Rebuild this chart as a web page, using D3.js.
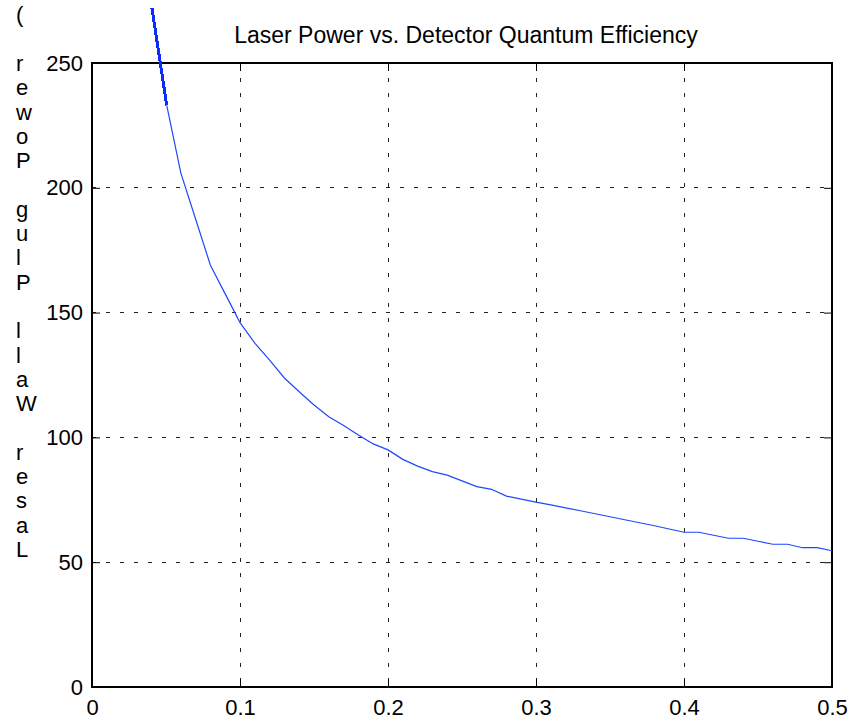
<!DOCTYPE html>
<html>
<head>
<meta charset="utf-8">
<script src="https://cdn.jsdelivr.net/npm/d3@7"></script>
<style>
    body { margin: 0; background: #fff; }
    text { font-family: "Liberation Sans", Arial, Helvetica, sans-serif; }
</style>
</head>
<body>
<div id="vis"></div>
<script>
//data
const efficiency = [0.0405, 0.0505, 0.06, 0.07, 0.08, 0.09, 0.10, 0.11, 0.12, 0.13, 0.14, 0.15,
    0.16, 0.17, 0.18, 0.19, 0.20, 0.21, 0.22, 0.23, 0.24, 0.25, 0.26, 0.27, 0.28, 0.29,
    0.30, 0.31, 0.32, 0.33, 0.34, 0.35, 0.36, 0.37, 0.38, 0.39, 0.40, 0.41, 0.42, 0.43,
    0.44, 0.45, 0.46, 0.47, 0.48, 0.49, 0.50]
const power = [272, 233, 206, 187.5, 169, 157.5, 146, 137.8, 131, 123.8, 118.3, 113,
    108.3, 104.8, 101, 97.4, 95, 91.2, 88.5, 86.3, 84.9, 82.6, 80.3, 79.2, 76.5, 75.3,
    74.1, 73, 71.8, 70.6, 69.4, 68.2, 67, 65.8, 64.6, 63.3, 62, 62, 60.8, 59.6,
    59.6, 58.4, 57.2, 57.2, 55.8, 55.8, 54.6]

const xTicks = [0, 0.1, 0.2, 0.3, 0.4, 0.5]
const xTickLabels = ["0", "0.1", "0.2", "0.3", "0.4", "0.5"]
const yTicks = [0, 50, 100, 150, 200, 250]
const yTickLabels = ["0", "50", "100", "150", "200", "250"]

const title = "Laser Power vs. Detector Quantum Efficiency"
const yLabel = "Laser Wall Plug Power ("

//static page size and plot box
const width = 854
const height = 722
const boxLeft = 92, boxRight = 832, boxTop = 63, boxBottom = 687

const svg = d3.select("#vis")
    .append("svg")
    .attr("width", width)
    .attr("height", height)

const x = d3.scaleLinear().domain([0, 0.5]).range([boxLeft, boxRight])
const y = d3.scaleLinear().domain([0, 250]).range([boxBottom, boxTop])

//dotted grid, only inside the box
svg.append("g")
    .selectAll("line")
    .data(xTicks.slice(1, -1))
    .enter()
    .append("line")
    .attr("x1", d => x(d)).attr("x2", d => x(d))
    .attr("y1", boxTop).attr("y2", boxBottom)
    .attr("stroke", "#222")
    .attr("stroke-dasharray", "4,11")
    .attr("shape-rendering", "crispEdges")

svg.append("g")
    .selectAll("line")
    .data(yTicks.slice(1, -1))
    .enter()
    .append("line")
    .attr("x1", boxLeft).attr("x2", boxRight)
    .attr("y1", d => y(d)).attr("y2", d => y(d))
    .attr("stroke", "#222")
    .attr("stroke-dasharray", "4,10")
    .attr("shape-rendering", "crispEdges")

//axes with inward ticks
svg.append("g")
    .attr("transform", `translate(0, ${boxBottom})`)
    .call(d3.axisBottom(x).tickValues(xTicks).tickFormat((d, i) => xTickLabels[i]).tickSize(-8).tickPadding(12))
svg.append("g")
    .attr("transform", `translate(${boxLeft}, 0)`)
    .call(d3.axisLeft(y).tickValues(yTicks).tickFormat((d, i) => yTickLabels[i]).tickSize(-8).tickPadding(9))
svg.append("g")
    .attr("transform", `translate(0, ${boxTop})`)
    .call(d3.axisTop(x).tickValues(xTicks).tickFormat("").tickSize(-8))
svg.append("g")
    .attr("transform", `translate(${boxRight}, 0)`)
    .call(d3.axisRight(y).tickValues(yTicks).tickFormat("").tickSize(-8))

svg.selectAll(".domain").remove()
svg.selectAll(".tick line").attr("stroke", "#000")
svg.selectAll(".tick text")
    .attr("fill", "#000")
    .style("font-size", "22px")
    .style("font-family", "'Liberation Sans', Arial, Helvetica, sans-serif")

//plot frame
svg.append("rect")
    .attr("x", boxLeft).attr("y", boxTop)
    .attr("width", boxRight - boxLeft).attr("height", boxBottom - boxTop)
    .attr("fill", "none")
    .attr("stroke", "#000")
    .attr("stroke-width", 2)

//the curve, the part above 233 is drawn heavy like in the original
const points = efficiency.map((e, i) => ({ e: e, p: power[i] }))
const line = d3.line()
    .x(d => x(d.e))
    .y(d => y(d.p))

svg.append("path")
    .datum(points.filter(d => d.p <= 233))
    .attr("d", line)
    .attr("fill", "none")
    .attr("stroke", "#1f48ff")
    .attr("stroke-width", 1.2)

svg.append("path")
    .datum(points.filter(d => d.p >= 233))
    .attr("d", line)
    .attr("fill", "none")
    .attr("stroke", "#0a2cff")
    .attr("stroke-width", 3)
    .attr("shape-rendering", "crispEdges")

//title
svg.append("text")
    .attr("x", 466)
    .attr("y", 43)
    .attr("text-anchor", "middle")
    .style("font-size", "23px")
    .text(title)

//y label, one upright letter per row, read from bottom to top
svg.append("g")
    .selectAll("text")
    .data(yLabel.split(""))
    .enter()
    .append("text")
    .attr("x", 16)
    .attr("y", (d, i) => 557 - i * 24.3)
    .style("font-size", "22px")
    .text(d => d)
</script>
</body>
</html>
